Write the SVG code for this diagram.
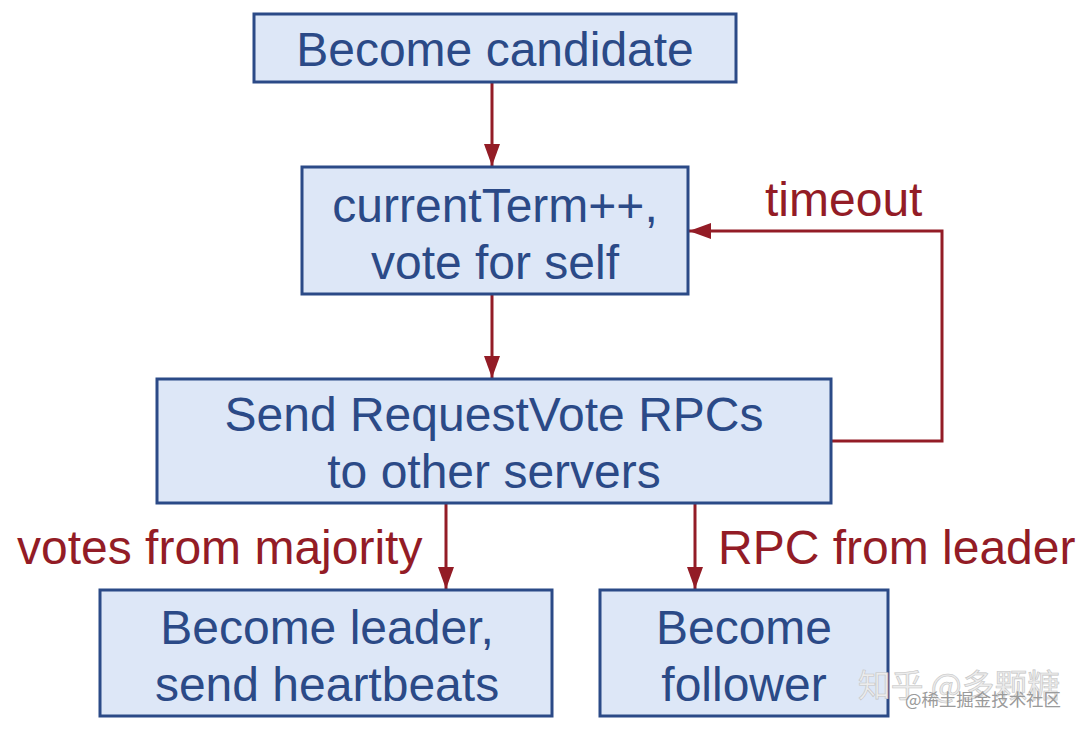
<svg xmlns="http://www.w3.org/2000/svg" width="1084" height="730" viewBox="0 0 1084 730">
<style>
.box{fill:#dde7f7;stroke:#2b4a87;stroke-width:3}
.t{font-family:"Liberation Sans",Arial,sans-serif;font-size:48px;fill:#2b4a87;text-anchor:middle}
.lbl{font-family:"Liberation Sans",Arial,sans-serif;font-size:48px;fill:#931c26}
.c{fill:none;stroke:#931c26;stroke-width:3}
.wm{font-family:"Noto Sans CJK SC",sans-serif;fill:#ececec;stroke:#c4c4c4;stroke-width:0.6}
</style>
<defs>
<marker id="ah" viewBox="0 0 22 16" refX="22" refY="8" markerWidth="22" markerHeight="16" markerUnits="userSpaceOnUse" orient="auto">
<path d="M0,0 L22,8 L0,16 Z" fill="#931c26"/>
</marker>
</defs>
<g id="connectors">
<line class="c" x1="492" y1="82" x2="492" y2="166" marker-end="url(#ah)"/>
<line class="c" x1="492" y1="294" x2="492" y2="378" marker-end="url(#ah)"/>
<polyline class="c" points="831,441 942,441 942,231 689,231" marker-end="url(#ah)"/>
<line class="c" x1="446" y1="503" x2="446" y2="589" marker-end="url(#ah)"/>
<line class="c" x1="695" y1="503" x2="695" y2="589" marker-end="url(#ah)"/>
<text class="lbl" x="765" y="216">timeout</text>
<text class="lbl" x="17" y="564">votes from majority</text>
<text class="lbl" x="718" y="564">RPC from leader</text>
</g>
<g id="n1">
<rect class="box" x="254" y="14" width="482" height="68"/>
<text class="t" x="495" y="66">Become candidate</text>
</g>
<g id="n2">
<rect class="box" x="302" y="167" width="386" height="127"/>
<text class="t" x="495" y="222">currentTerm++,</text>
<text class="t" x="495" y="279">vote for self</text>
</g>
<g id="n3">
<rect class="box" x="157" y="379" width="674" height="124"/>
<text class="t" x="494" y="431">Send RequestVote RPCs</text>
<text class="t" x="494" y="488">to other servers</text>
</g>
<g id="n4">
<rect class="box" x="100" y="590" width="452" height="126"/>
<text class="t" x="327" y="644">Become leader,</text>
<text class="t" x="327" y="701">send heartbeats</text>
</g>
<g id="n5">
<rect class="box" x="600" y="590" width="288" height="126"/>
<text class="t" x="744" y="644">Become</text>
<text class="t" x="744" y="701">follower</text>
</g>
<g id="watermark">
<text class="wm" x="858" y="697" font-size="32" textLength="202" lengthAdjust="spacingAndGlyphs">知乎 @多颗糖</text>
<text x="905" y="706" font-family="'Noto Sans CJK SC',sans-serif" font-size="17" fill="#9a9a9a" textLength="156" lengthAdjust="spacingAndGlyphs">@稀土掘金技术社区</text>
</g>
</svg>
